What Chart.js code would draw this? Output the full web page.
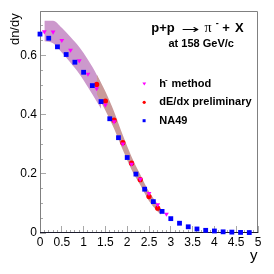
<!DOCTYPE html>
<html><head><meta charset="utf-8">
<script src="https://cdn.jsdelivr.net/npm/chart.js@4/dist/chart.umd.min.js"></script>
<style>html,body{margin:0;padding:0;background:#fff;overflow:hidden}</style>
</head><body>
<canvas id="c" width="274" height="274"></canvas>
<script>
// NA49 (blue squares)
const na49X = [0,0.2,0.4,0.6,0.8,1.0,1.2,1.4,1.6,1.8,2.0,2.2,2.4,2.6,2.8,3.0,3.2,3.4,3.6,3.8,4.0,4.2,4.4,4.6,4.8];
const na49Y = [0.672,0.658,0.629,0.603,0.577,0.543,0.498,0.444,0.386,0.322,0.255,0.199,0.148,0.106,0.073,0.0485,0.033,0.021,0.0136,0.009,0.0068,0.004,0.003,0.002,0.0015];
// h- method (magenta triangles)
const hX = [0.1,0.3,0.5,0.7,0.9,1.1,1.3,1.5,1.7,1.9,2.1,2.3,2.5,2.7,2.9];
const hY = [0.680,0.679,0.651,0.618,0.582,0.537,0.488,0.433,0.376,0.301,0.233,0.182,0.134,0.096,0.064];
// dE/dx preliminary (red circles)
const dX = [1.3,1.5,1.7,1.9,2.1,2.3,2.5,2.7];
const dY = [0.502,0.446,0.381,0.305,0.236,0.180,0.123,0.084];
// systematic band, h- method (purple)
const hBandX = [0.1,0.3,0.5,0.7,0.9,1.1,1.3,1.4];
const hBandHi = [0.717,0.717,0.693,0.662,0.628,0.585,0.535,0.505];
const hBandLo = [0.648,0.641,0.610,0.575,0.538,0.492,0.444,0.420];
// systematic band, dE/dx (brown)
const dBandX = [1.3,1.5,1.7,1.9,2.1,2.3,2.5,2.7,2.78];
const dBandHi = [0.536,0.478,0.410,0.330,0.258,0.198,0.140,0.097,0.080];
const dBandLo = [0.470,0.414,0.352,0.280,0.214,0.162,0.108,0.072,0.062];
// axis ticks
const xTicks = [0,0.5,1,1.5,2,2.5,3,3.5,4,4.5,5];
const xTickLabels = ['0','0.5','1','1.5','2','2.5','3','3.5','4','4.5','5'];
const yTicks = [0,0.2,0.4,0.6];
const yTickLabels = ['0','0.2','0.4','0.6'];

const pts = (xs, ys) => xs.map((v, i) => ({x: v, y: ys[i]}));
const FONT = '"Liberation Sans", Arial, sans-serif';

const deco = {
  id: 'deco',
  beforeDatasetsDraw(chart) {
    const {ctx, chartArea: a, scales: {x, y}} = chart;
    ctx.save();
    ctx.lineWidth = 1;
    ctx.strokeStyle = '#a8a8a8';
    for (let i = 0; i <= 15; i++) {
      const v = i * 0.05;
      const py = Math.floor(y.getPixelForValue(v)) + 0.5;
      const len = (i % 4 === 0) ? 6 : 3;
      ctx.beginPath(); ctx.moveTo(a.left, py); ctx.lineTo(a.left + len, py); ctx.stroke();
    }
    for (let i = 0; i <= 50; i++) {
      const v = i * 0.1;
      const px = Math.floor(x.getPixelForValue(v)) + 0.5;
      const len = (i % 5 === 0) ? 7 : 3;
      ctx.beginPath(); ctx.moveTo(px, a.bottom); ctx.lineTo(px, a.bottom - len); ctx.stroke();
    }
    ctx.strokeStyle = '#808080';
    ctx.beginPath();
    ctx.moveTo(a.left + 0.5, a.bottom); ctx.lineTo(a.left + 0.5, a.top + 0.5);
    ctx.lineTo(a.right - 0.5, a.top + 0.5); ctx.lineTo(a.right - 0.5, a.bottom);
    ctx.stroke();
    ctx.strokeStyle = '#1c1c2c';
    ctx.beginPath(); ctx.moveTo(a.left, a.bottom - 0.5); ctx.lineTo(a.right, a.bottom - 0.5); ctx.stroke();
    ctx.restore();
  },
  afterDraw(chart) {
    const ctx = chart.ctx;
    ctx.save();
    ctx.fillStyle = '#000';
    ctx.textBaseline = 'alphabetic';
    ctx.textAlign = 'left';
    ctx.save();
    ctx.translate(19, 13.3);
    ctx.rotate(-Math.PI / 2);
    ctx.textAlign = 'right';
    ctx.font = '13px ' + FONT;
    ctx.fillText('dn/dy', 0, 0);
    ctx.restore();
    ctx.textAlign = 'right';
    ctx.font = '15px ' + FONT;
    ctx.fillText('y', 257.5, 259.5);
    ctx.textAlign = 'left';
    ctx.font = 'bold 13px ' + FONT;
    ctx.fillText('p+p', 151.3, 31.5);
    ctx.save();
    ctx.translate(181, 33);
    ctx.scale(1.8, 1);
    ctx.font = '12px "DejaVu Sans"';
    ctx.fillText('\u2192', 0, 0);
    ctx.restore();
    ctx.font = '14px "Liberation Serif", serif';
    ctx.fillText('\u03C0', 204.5, 31.5);
    ctx.font = 'bold 9px ' + FONT;
    ctx.fillText('-', 215.8, 26);
    ctx.font = 'bold 13px ' + FONT;
    ctx.fillText('+', 222.3, 31.5);
    ctx.fillText('X', 235, 31.5);
    ctx.font = 'bold 11px ' + FONT;
    ctx.fillText('at 158 GeV/c', 168.5, 46.5);
    ctx.font = 'bold 11px ' + FONT;
    ctx.fillText('h', 159.3, 86.5);
    ctx.font = 'bold 8px ' + FONT;
    ctx.fillText('-', 165, 82);
    ctx.font = 'bold 11px ' + FONT;
    ctx.fillText('method', 171.5, 86.5);
    ctx.fillText('dE/dx preliminary', 159.3, 105);
    ctx.fillText('NA49', 159.3, 124);
    ctx.fillStyle = '#ff00ff';
    ctx.beginPath(); ctx.moveTo(142.4, 82.4); ctx.lineTo(146.2, 82.4); ctx.lineTo(144.3, 85.4); ctx.closePath(); ctx.fill();
    ctx.fillStyle = '#ff0000';
    ctx.beginPath(); ctx.arc(144.2, 102.3, 1.6, 0, Math.PI * 2); ctx.fill();
    ctx.fillStyle = '#0000ff';
    ctx.fillRect(142.6, 119.2, 3, 3);
    ctx.restore();
  }
};

new Chart(document.getElementById('c'), {
  type: 'scatter',
  data: {
    datasets: [
      {label: 'NA49', data: pts(na49X, na49Y), pointStyle: 'rect', pointRadius: 3.4, backgroundColor: '#0000ff', borderWidth: 0, clip: false},
      {label: 'h- method', data: pts(hX, hY), pointStyle: 'triangle', rotation: 180, pointRadius: 2.8, backgroundColor: '#ff00ff', borderWidth: 0, clip: false},
      {label: 'dE/dx preliminary', data: pts(dX, dY), pointStyle: 'circle', pointRadius: 2.6, backgroundColor: '#ff0000', borderWidth: 0, clip: false},
      {type: 'line', data: pts(dBandX, dBandHi), fill: '+1', backgroundColor: '#c99a99', borderColor: 'rgba(0,0,0,0)', borderWidth: 0, pointRadius: 0, cubicInterpolationMode: 'monotone'},
      {type: 'line', data: pts(dBandX, dBandLo), fill: false, borderColor: 'rgba(0,0,0,0)', borderWidth: 0, pointRadius: 0, cubicInterpolationMode: 'monotone'},
      {type: 'line', data: pts(hBandX, hBandHi), fill: '+1', backgroundColor: '#cc99cc', borderColor: 'rgba(0,0,0,0)', borderWidth: 0, pointRadius: 0, cubicInterpolationMode: 'monotone'},
      {type: 'line', data: pts(hBandX, hBandLo), fill: false, borderColor: 'rgba(0,0,0,0)', borderWidth: 0, pointRadius: 0, cubicInterpolationMode: 'monotone'}
    ]
  },
  options: {
    responsive: false,
    animation: false,
    devicePixelRatio: 1,
    events: [],
    layout: {padding: {top: 11, right: 16, left: 0, bottom: 0}},
    plugins: {legend: {display: false}, tooltip: {enabled: false}},
    scales: {
      x: {
        type: 'linear', min: 0, max: 5,
        grid: {display: false, drawTicks: false},
        border: {display: false},
        afterFit: s => { s.height = 41; },
        afterBuildTicks: s => { s.ticks = xTicks.map(v => ({value: v})); },
        ticks: {padding: 2, color: '#000', font: {family: FONT, size: 12}, maxRotation: 0, autoSkip: false,
          callback: (v, i) => xTickLabels[i]}
      },
      y: {
        type: 'linear', min: 0, max: 0.75,
        grid: {display: false, drawTicks: false},
        border: {display: false},
        afterFit: s => { s.width = 40; },
        afterBuildTicks: s => { s.ticks = yTicks.map(v => ({value: v})); },
        ticks: {padding: 3, color: '#000', font: {family: FONT, size: 12}, autoSkip: false,
          callback: (v, i) => yTickLabels[i]}
      }
    }
  },
  plugins: [deco]
});
</script>
</body></html>
